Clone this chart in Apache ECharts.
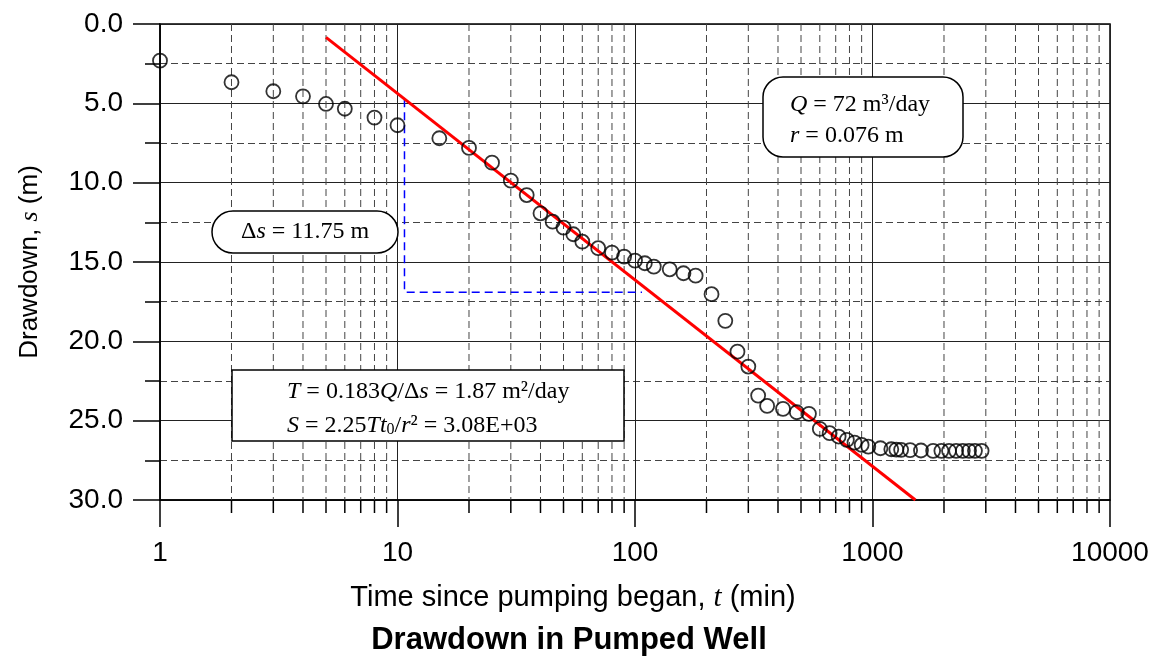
<!DOCTYPE html>
<html>
<head>
<meta charset="utf-8">
<script src="https://cdn.jsdelivr.net/npm/echarts@6/dist/echarts.min.js"></script>
<style>
  html, body { margin: 0; padding: 0; background: #ffffff; }
  #chart { width: 1163px; height: 671px; }
</style>
</head>
<body>
<div id="chart"></div>
<script>
// pumping test data
const timeMin = [1, 2, 3, 4, 5, 6, 8, 10, 15, 20, 25, 30, 35, 40, 45, 50, 55, 60, 70, 80, 90,
  100, 110, 120, 140, 160, 180, 210, 240, 270, 300, 330, 360, 420, 480, 540, 600, 660, 720,
  780, 840, 900, 960, 1080, 1200, 1260, 1320, 1440, 1600, 1800, 1950, 2100, 2250, 2400,
  2550, 2700, 2880];
const drawdown = [2.31, 3.67, 4.24, 4.56, 5.04, 5.34, 5.90, 6.38, 7.20, 7.81, 8.74, 9.87,
  10.78, 11.93, 12.46, 12.83, 13.25, 13.72, 14.13, 14.41, 14.66, 14.91, 15.08, 15.29, 15.46,
  15.71, 15.86, 17.03, 18.71, 20.65, 21.59, 23.42, 24.07, 24.26, 24.47, 24.57, 25.52, 25.79,
  26.00, 26.21, 26.38, 26.53, 26.64, 26.74, 26.80, 26.82, 26.84, 26.86, 26.88, 26.90, 26.90,
  26.90, 26.90, 26.90, 26.90, 26.90, 26.90];

// Cooper-Jacob straight line and the one-log-cycle guide
const fitLine = [[5, 0.84], [1516, 30]];
const cycleGuide = [[10.7, 4.75], [10.7, 16.9], [107, 16.9]];

// axis ticks
const xMajor = [1, 10, 100, 1000, 10000];
const xMinor = [2, 3, 4, 5, 6, 7, 8, 9, 20, 30, 40, 50, 60, 70, 80, 90,
  200, 300, 400, 500, 600, 700, 800, 900, 2000, 3000, 4000, 5000, 6000, 7000, 8000, 9000];
const yTicks = [0, 5, 10, 15, 20, 25, 30];

const SANS = "'Liberation Sans', Arial, sans-serif";
const SERIF = "'Liberation Serif', 'Times New Roman', serif";

const chart = echarts.init(document.getElementById("chart"), null, { renderer: "canvas" });

const points = timeMin.map((t, i) => [t, drawdown[i]]);

const annoRich = {
  n: { fontFamily: SERIF, fontSize: 24, fill: "#000" },
  i: { fontFamily: SERIF, fontSize: 24, fontStyle: "italic", fill: "#000" },
  sub: { fontFamily: SERIF, fontSize: 16, fill: "#000", verticalAlign: "bottom" }
};

chart.setOption({
  animation: false,
  backgroundColor: "#ffffff",
  grid: {
    left: 160,
    right: 53,
    top: 24,
    bottom: 171,
    show: true,
    borderColor: "#000",
    borderWidth: 1.5,
    backgroundColor: "transparent"
  },
  xAxis: {
    type: "log",
    logBase: 10,
    min: xMajor[0],
    max: xMajor[xMajor.length - 1],
    axisLine: { show: true, onZero: false, lineStyle: { color: "#000", width: 1.5 } },
    axisTick: { show: true, length: 27, lineStyle: { color: "#000", width: 1.5 } },
    axisLabel: {
      margin: 39,
      color: "#000",
      fontFamily: SANS,
      fontSize: 28,
      formatter: (v) => String(Math.round(v))
    },
    splitLine: { show: true, lineStyle: { color: "#222", width: 1 } }
  },
  yAxis: {
    type: "value",
    inverse: true,
    min: yTicks[0],
    max: yTicks[yTicks.length - 1],
    interval: 5,
    name: "{a|Drawdown, }{b|s}{a| (m)}",
    nameLocation: "middle",
    nameRotate: 90,
    nameGap: 117,
    nameTextStyle: {
      rich: {
        a: { fontFamily: SANS, fontSize: 26, color: "#000" },
        b: { fontFamily: SERIF, fontSize: 26, fontStyle: "italic", color: "#000" }
      }
    },
    axisLine: { show: true, onZero: false, lineStyle: { color: "#000", width: 1.5 } },
    axisTick: { show: true, length: 27, lineStyle: { color: "#000", width: 1.5 } },
    minorTick: { show: true, splitNumber: 2, length: 15, lineStyle: { color: "#000", width: 1.5 } },
    axisLabel: {
      margin: 37,
      color: "#000",
      fontFamily: SANS,
      fontSize: 28,
      formatter: (v) => v.toFixed(1)
    },
    splitLine: { show: true, lineStyle: { color: "#222", width: 1 } },
    minorSplitLine: { show: true, lineStyle: { color: "#444", width: 1, type: [7, 4] } }
  },
  series: [
    {
      // minor log gridlines + outward minor ticks
      type: "custom",
      clip: false,
      silent: true,
      z: 1,
      data: xMinor.map((v) => [v, 0]),
      encode: { x: 0, y: 1 },
      renderItem(params, api) {
        const v = api.value(0);
        const top = api.coord([v, yTicks[0]]);
        const bot = api.coord([v, yTicks[yTicks.length - 1]]);
        return {
          type: "group",
          children: [
            {
              type: "line",
              shape: { x1: top[0], y1: top[1], x2: bot[0], y2: bot[1] },
              style: { stroke: "#444", lineWidth: 1, lineDash: [7, 4] }
            },
            {
              type: "line",
              shape: { x1: bot[0], y1: bot[1], x2: bot[0], y2: bot[1] + 13 },
              style: { stroke: "#000", lineWidth: 1.5 }
            }
          ]
        };
      }
    },
    {
      type: "line",
      data: cycleGuide,
      symbol: "none",
      z: 3,
      lineStyle: { color: "#0000ff", width: 1.5, type: [8, 5] }
    },
    {
      type: "line",
      data: fitLine,
      symbol: "none",
      z: 4,
      lineStyle: { color: "#ff0000", width: 3 }
    },
    {
      type: "scatter",
      data: points,
      symbol: "circle",
      symbolSize: 14,
      z: 5,
      itemStyle: { color: "rgba(0,0,0,0)", borderColor: "#000", borderWidth: 1.8 }
    }
  ],
  graphic: [
    // delta s pill
    {
      type: "rect",
      z: 10,
      shape: { x: 212, y: 211, width: 186, height: 42, r: 21 },
      style: { fill: "#fff", stroke: "#000", lineWidth: 1.5 }
    },
    {
      type: "text",
      z: 11,
      style: {
        x: 305, y: 232,
        text: "{n|Δ}{i|s}{n| = 11.75 m}",
        rich: annoRich,
        align: "center", verticalAlign: "middle",
        textAlign: "center", textVerticalAlign: "middle"
      }
    },
    // T and S box
    {
      type: "rect",
      z: 10,
      shape: { x: 232, y: 370, width: 392, height: 71 },
      style: { fill: "#fff", stroke: "#000", lineWidth: 1.5 }
    },
    {
      type: "text",
      z: 11,
      style: {
        x: 287, y: 392,
        text: "{i|T}{n| = 0.183}{i|Q}{n|/Δ}{i|s}{n| = 1.87 m²/day}",
        rich: annoRich,
        align: "left", verticalAlign: "middle",
        textAlign: "left", textVerticalAlign: "middle"
      }
    },
    {
      type: "text",
      z: 11,
      style: {
        x: 287, y: 426,
        text: "{i|S}{n| = 2.25}{i|Tt}{sub|0}{n|/}{i|r}{n|² = 3.08E+03}",
        rich: annoRich,
        align: "left", verticalAlign: "middle",
        textAlign: "left", textVerticalAlign: "middle"
      }
    },
    // Q and r box
    {
      type: "rect",
      z: 10,
      shape: { x: 763, y: 77, width: 200, height: 80, r: 20 },
      style: { fill: "#fff", stroke: "#000", lineWidth: 1.5 }
    },
    {
      type: "text",
      z: 11,
      style: {
        x: 790, y: 105,
        text: "{i|Q}{n| = 72 m³/day}",
        rich: annoRich,
        align: "left", verticalAlign: "middle",
        textAlign: "left", textVerticalAlign: "middle"
      }
    },
    {
      type: "text",
      z: 11,
      style: {
        x: 790, y: 136,
        text: "{i|r}{n| = 0.076 m}",
        rich: annoRich,
        align: "left", verticalAlign: "middle",
        textAlign: "left", textVerticalAlign: "middle"
      }
    },
    // x axis name
    {
      type: "text",
      z: 11,
      style: {
        x: 573, y: 598,
        text: "{a|Time since pumping began, }{b|t}{a| (min)}",
        rich: {
          a: { fontFamily: SANS, fontSize: 29, fill: "#000" },
          b: { fontFamily: SERIF, fontSize: 29, fontStyle: "italic", fill: "#000" }
        },
        align: "center", verticalAlign: "middle",
        textAlign: "center", textVerticalAlign: "middle"
      }
    },
    // chart title
    {
      type: "text",
      z: 11,
      style: {
        x: 569, y: 640,
        text: "Drawdown in Pumped Well",
        font: "bold 31px " + SANS,
        fill: "#000",
        align: "center", verticalAlign: "middle",
        textAlign: "center", textVerticalAlign: "middle"
      }
    }
  ]
});
</script>
</body>
</html>
